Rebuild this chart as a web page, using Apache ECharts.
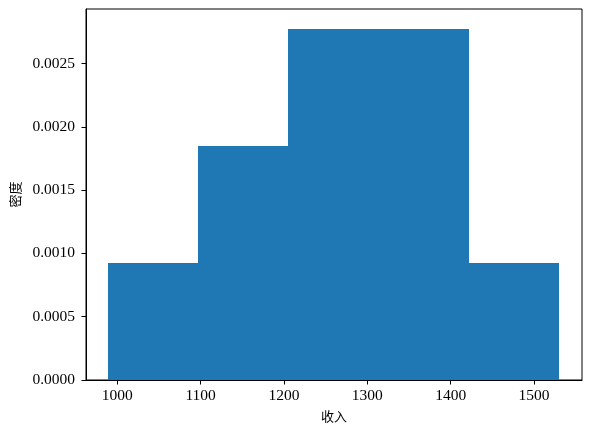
<!DOCTYPE html>
<html>
<head>
<meta charset="utf-8">
<script src="https://cdn.jsdelivr.net/npm/echarts@6/dist/echarts.min.js"></script>
<style>html,body{margin:0;padding:0;background:#fff;}#c{width:591px;height:436px;}</style>
</head>
<body>
<div id="c"></div>
<script>
// histogram bins: [start, end]
var binStarts = [988.8, 1097.0, 1205.2, 1313.4, 1421.6];
var binEnds   = [1097.0, 1205.2, 1313.4, 1421.6, 1529.8];
var densities = [0.000924, 0.001849, 0.002773, 0.002773, 0.000924];
var xTicks = [1000, 1100, 1200, 1300, 1400, 1500];
var yTicks = [0, 0.0005, 0.001, 0.0015, 0.002, 0.0025];
var xLabel = '收入';
var yLabel = '密度';

var data = binStarts.map(function (s, i) { return [s, binEnds[i], densities[i]]; });
var numFont = 'Liberation Serif';
var chart = echarts.init(document.getElementById('c'), null, {renderer: 'canvas'});
chart.setOption({
  animation: false,
  backgroundColor: '#fff',
  grid: {left: 86, right: 9, top: 9, bottom: 56, show: true, borderColor: '#000', borderWidth: 1, containLabel: false},
  xAxis: {
    type: 'value', min: 962.5, max: 1557.5,
    name: xLabel, nameLocation: 'middle', nameGap: 30,
    nameTextStyle: {fontFamily: 'Noto Sans CJK SC', fontSize: 13, color: '#000'},
    axisLine: {show: true, onZero: false, lineStyle: {color: '#000', width: 1}},
    axisTick: {show: true, length: 4.5, lineStyle: {color: '#000'}, customValues: xTicks},
    axisLabel: {color: '#000', fontFamily: numFont, fontSize: 15.5, margin: 8, customValues: xTicks,
      formatter: function (v) { return String(v); }},
    splitLine: {show: false}
  },
  yAxis: {
    type: 'value', min: 0, max: 0.00293,
    name: yLabel, nameLocation: 'middle', nameGap: 64, nameRotate: 90,
    nameTextStyle: {fontFamily: 'Noto Sans CJK SC', fontSize: 13, color: '#000'},
    axisLine: {show: true, lineStyle: {color: '#000', width: 1}},
    axisTick: {show: true, length: 4.5, lineStyle: {color: '#000'}, customValues: yTicks},
    axisLabel: {color: '#000', fontFamily: numFont, fontSize: 15.5, margin: 11, customValues: yTicks,
      formatter: function (v) { return v.toFixed(4); }},
    splitLine: {show: false}
  },
  series: [{
    type: 'custom',
    data: data,
    encode: {x: [0, 1], y: 2},
    renderItem: function (params, api) {
      var p0 = api.coord([api.value(0), api.value(2)]);
      var p1 = api.coord([api.value(1), 0]);
      var x0 = Math.round(p0[0]), x1 = Math.round(p1[0]);
      return {
        type: 'rect',
        shape: {x: x0, y: p0[1], width: x1 - x0, height: p1[1] - p0[1]},
        style: {fill: '#1f77b4'}
      };
    }
  }]
});
</script>
</body>
</html>
